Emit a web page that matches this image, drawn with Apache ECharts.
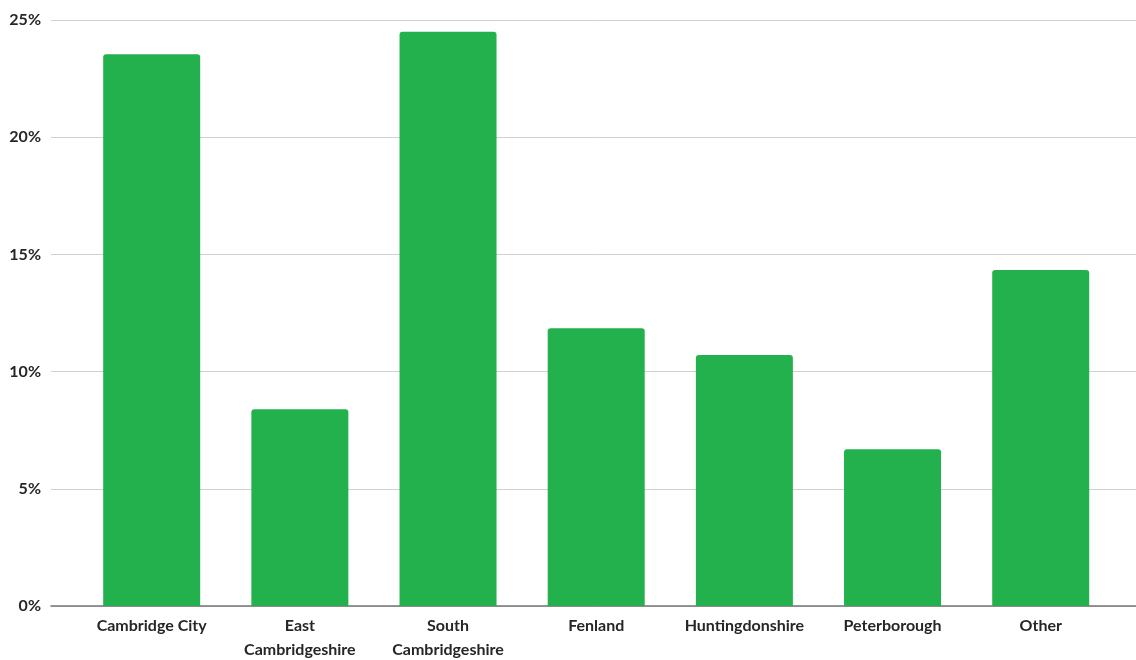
<!DOCTYPE html>
<html>
<head>
<meta charset="utf-8">
<script src="https://cdn.jsdelivr.net/npm/echarts@6/dist/echarts.min.js"></script>
<style>
  html, body { margin: 0; padding: 0; background: #ffffff; }
  #chart { width: 1136px; height: 660px; }
</style>
</head>
<body>
<div id="chart"></div>
<script>
// Share of respondents by district (%)
const categories = [
  'Cambridge City',
  'East\nCambridgeshire',
  'South\nCambridgeshire',
  'Fenland',
  'Huntingdonshire',
  'Peterborough',
  'Other'
];
const shares = [23.54, 8.39, 24.5, 11.85, 10.71, 6.69, 14.33];
const yTicks = [0, 5, 10, 15, 20, 25];

const FONT = 'Lato, "Open Sans", sans-serif';
const yMax = yTicks[yTicks.length - 1];
const yStep = yTicks[1] - yTicks[0];

const chart = echarts.init(document.getElementById('chart'), null, { renderer: 'canvas' });
chart.setOption({
  animation: false,
  backgroundColor: '#ffffff',
  grid: [
    // full-width frame: gridlines, percentage labels and baseline
    { left: 51, right: 0, top: 20, bottom: 54, containLabel: false, outerBoundsMode: 'none' },
    // bars and category labels
    { left: 77.6, right: 21.2, top: 20, bottom: 54, containLabel: false, outerBoundsMode: 'none' }
  ],
  xAxis: [
    {
      gridIndex: 0, type: 'value', min: 0, max: 1,
      axisLine: { show: true, onZero: true, lineStyle: { color: '#767676', width: 1.5 } },
      axisTick: { show: false }, axisLabel: { show: false }, splitLine: { show: false }
    },
    {
      gridIndex: 1, type: 'category', data: categories,
      axisLine: { show: false }, axisTick: { show: false },
      axisLabel: {
        interval: 0, margin: 8, color: '#262626',
        fontFamily: FONT, fontWeight: 'bold', fontSize: 16, lineHeight: 24
      }
    }
  ],
  yAxis: [
    {
      gridIndex: 0, type: 'value', min: 0, max: yMax, interval: yStep,
      axisLine: { show: false }, axisTick: { show: false },
      axisLabel: {
        formatter: v => v + '%', margin: 10, color: '#262626',
        fontFamily: FONT, fontWeight: 'bold', fontSize: 16
      },
      splitLine: { show: true, lineStyle: { color: '#d0d0d0', width: 1 } }
    },
    {
      gridIndex: 1, type: 'value', min: 0, max: yMax, interval: yStep,
      show: false, splitLine: { show: false }
    }
  ],
  series: [
    {
      type: 'bar', xAxisIndex: 1, yAxisIndex: 1,
      data: shares, barWidth: 97,
      itemStyle: { color: '#23b14d', borderRadius: [3, 3, 0, 0] }
    }
  ]
});
</script>
</body>
</html>
